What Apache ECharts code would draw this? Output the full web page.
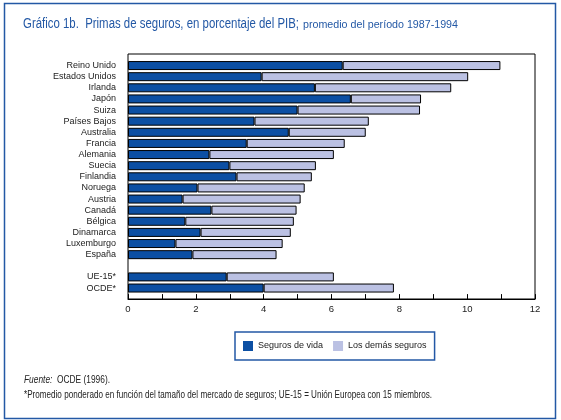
<!DOCTYPE html>
<html>
<head>
<meta charset="utf-8">
<script src="https://cdn.jsdelivr.net/npm/echarts@6/dist/echarts.min.js"></script>
<style>
html,body{margin:0;padding:0;background:#fff;}
#chart{width:561px;height:420px;}
</style>
</head>
<body>
<div id="chart"></div>
<script>
const categories = ['Reino Unido','Estados Unidos','Irlanda','Japón','Suiza','Países Bajos','Australia','Francia','Alemania','Suecia','Finlandia','Noruega','Austria','Canadá','Bélgica','Dinamarca','Luxemburgo','España','','UE-15*','OCDE*'];
const lifeValues  = [6.33,3.94,5.51,6.57,5.00,3.73,4.74,3.50,2.40,2.99,3.20,2.05,1.61,2.46,1.69,2.14,1.40,1.90,null,2.91,4.00];
const otherValues = [4.65,6.09,4.02,2.07,3.61,3.37,2.27,2.89,3.67,2.55,2.22,3.16,3.48,2.51,3.20,2.66,3.16,2.48,null,3.16,3.84];
const seriesNames = ['Seguros de vida','Los demás seguros'];
const xTicks = [0,2,4,6,8,10,12];

const titleText = 'Gráfico 1b.  Primas de seguros, en porcentaje del PIB;';
const subtitleText = 'promedio del período 1987-1994';
const sourceLabel = 'Fuente:';
const sourceText = '  OCDE (1996).';
const noteText = '*Promedio ponderado en función del tamaño del mercado de seguros; UE-15 = Unión Europea con 15 miembros.';

const FONT = "'Liberation Sans',Arial,sans-serif";
const BLUE = '#2358a5';
const DARK = '#0c4fa3';
const LIGHT = '#bbc1e3';

// measure text to squeeze into the condensed widths of the original
const mctx = document.createElement('canvas').getContext('2d');
function fitScale(text, size, target, style){
  mctx.font = (style||'') + ' ' + size + 'px ' + FONT;
  return target / mctx.measureText(text).width;
}
const sTitle = fitScale(titleText, 14, 276);
const sSub = fitScale(subtitleText, 11.5, 155);
const sSrc = fitScale(sourceLabel + sourceText, 10.5, 86);
const sNote = fitScale(noteText, 10.5, 408);

const chart = echarts.init(document.getElementById('chart'), null, {renderer:'canvas'});
chart.setOption({
  animation:false,
  backgroundColor:'#fff',
  textStyle:{fontFamily:FONT},
  legend:{
    left:235, top:332,
    padding:[9,8,9,8],
    borderColor:BLUE, borderWidth:1.5,
    itemWidth:10, itemHeight:10, itemGap:10,
    icon:'rect',
    itemStyle:{borderWidth:0},
    textStyle:{fontFamily:FONT, fontSize:9, color:'#222'},
    data:seriesNames
  },
  grid:{left:128, right:26, top:60, bottom:126.4},
  xAxis:{
    type:'value', min:0, max:12, interval:1,
    offset:5.5,
    axisLine:{show:true, lineStyle:{color:'#000', width:1}},
    axisTick:{show:true, inside:true, length:5, lineStyle:{color:'#000'}},
    axisLabel:{
      fontFamily:FONT, fontSize:9.5, color:'#222', margin:5,
      formatter:function(v){ return xTicks.indexOf(v) >= 0 ? String(v) : ''; }
    },
    splitLine:{show:false}
  },
  yAxis:{
    type:'category', inverse:true, data:categories,
    axisLine:{show:false},
    axisTick:{show:false},
    axisLabel:{interval:0, fontFamily:FONT, fontSize:9, color:'#222', margin:12}
  },
  graphic:[
    {type:'rect', left:2, top:1, shape:{x:0,y:0,width:551,height:415}, style:{fill:'none', stroke:BLUE, lineWidth:1.5}, silent:true, z:-1},
    {type:'rect', shape:{x:128,y:54,width:407,height:245}, style:{fill:'none', stroke:'#000', lineWidth:1}, silent:true, z:10},
    {type:'text', x:23, y:24, scaleX:sTitle, style:{text:titleText, fontSize:14, fontFamily:FONT, fill:BLUE, textVerticalAlign:'middle'}},
    {type:'text', x:303, y:24.5, scaleX:sSub, style:{text:subtitleText, fontSize:11.5, fontFamily:FONT, fill:BLUE, textVerticalAlign:'middle'}},
    {type:'text', x:24, y:380, scaleX:sSrc, style:{
      text:'{i|' + sourceLabel + '}' + sourceText,
      rich:{i:{fontStyle:'italic', fontSize:10.5, fontFamily:FONT, fill:'#222'}},
      fontSize:10.5, fontFamily:FONT, fill:'#222', textVerticalAlign:'middle'}},
    {type:'text', x:24, y:395, scaleX:sNote, style:{
      text:noteText, fontSize:10.5, fontFamily:FONT, fill:'#222', textVerticalAlign:'middle'}}
  ],
  series:[
    {name:seriesNames[0], type:'bar', stack:'t', data:lifeValues, barWidth:9,
     itemStyle:{color:DARK, borderColor:'#000', borderWidth:1}},
    {name:seriesNames[1], type:'bar', stack:'t', data:otherValues, barWidth:9,
     itemStyle:{color:LIGHT, borderColor:'#000', borderWidth:1}}
  ]
});
</script>
</body>
</html>
